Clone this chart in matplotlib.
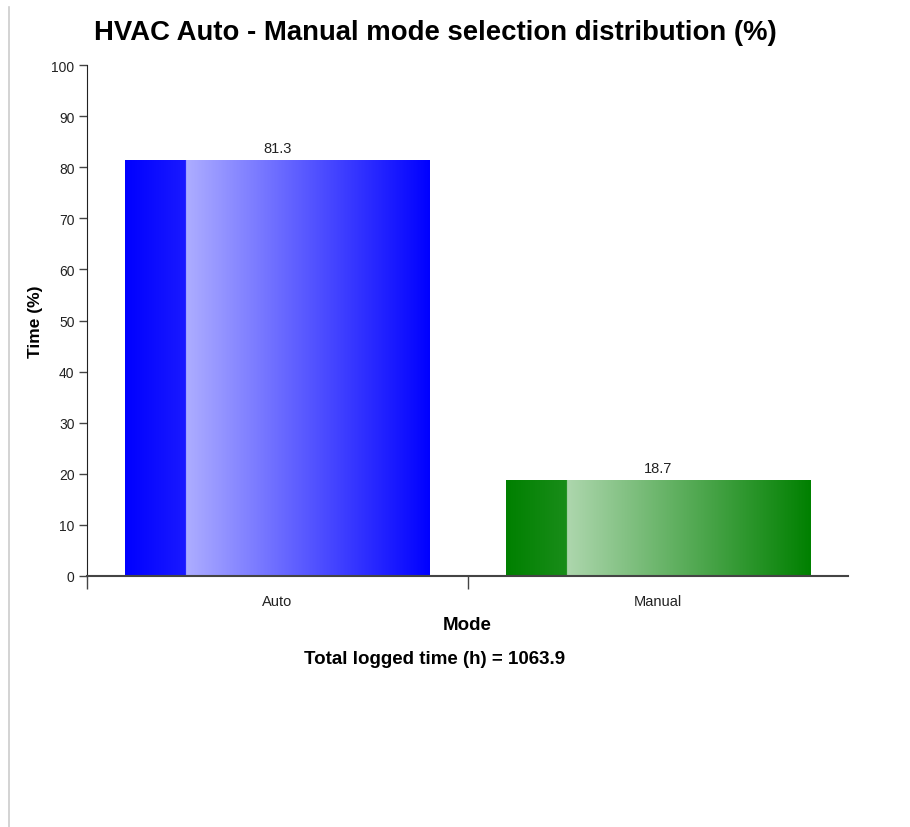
import numpy as np
import matplotlib
matplotlib.use("Agg")
import matplotlib.pyplot as plt
from matplotlib.colors import to_rgb
from matplotlib.lines import Line2D

plt.rcParams['font.family'] = ['Liberation Sans', 'DejaVu Sans']

categories = ["Auto", "Manual"]
values = [81.3, 18.7]
bar_colors = ["#0000ff", "#008000"]
total_hours = 1063.9
title = "HVAC Auto - Manual mode selection distribution (%)"

W, H = 910, 828
fig = plt.figure(figsize=(W / 100, H / 100), dpi=100)
ax = fig.add_axes([87 / W, 1 - 577 / H, (848 - 87) / W, (577 - 66) / H])

bw = 0.8
for i, (v, c) in enumerate(zip(values, bar_colors)):
    x0, x1 = i - bw / 2, i + bw / 2
    n = 400
    t = np.linspace(0, 1, n)
    split = 0.2
    cols = np.zeros((1, n, 3))
    base = np.array(to_rgb(c))
    for k, tt in enumerate(t):
        if tt < split:
            f = 0.1 * (tt / split)
        else:
            f = 0.68 * (1 - (tt - split) / (1 - split))
        cols[0, k] = base + (1 - base) * f
    ax.imshow(cols, extent=(x0, x1, 0, v), aspect='auto', interpolation='bilinear', zorder=2)
    ax.text(i, v + 1.0, f"{v}", ha='center', va='bottom', fontsize=10.5, color='#222222')

ax.set_xlim(-0.5, len(categories) - 0.5)
ax.set_ylim(0, 100)

for s in ['top', 'right']:
    ax.spines[s].set_visible(False)
ax.spines['left'].set_color('#222222')
ax.spines['bottom'].set_color('#444444')
ax.spines['bottom'].set_linewidth(1.5)

ax.set_yticks(np.arange(0, 101, 10))
ax.tick_params(axis='y', labelsize=10, length=6, width=1, color='#444444', pad=3, labelcolor='#222222')
ax.set_xticks(range(len(categories)))
ax.set_xticklabels(categories)
ax.tick_params(axis='x', length=0, labelsize=10.5, pad=13, labelcolor='#222222')
ax.set_xticks([-0.5, 0.5], minor=True)
ax.tick_params(axis='x', which='minor', length=9, width=1, color='#444444', direction='out')

ax.set_ylabel("Time (%)", fontsize=12.5, fontweight='bold', labelpad=6)
ax.set_xlabel("Mode", fontsize=13.5, fontweight='bold', labelpad=6)

fig.text(435 / W, 1 - 33 / H, title, ha='center', va='center', fontsize=19.8, fontweight='bold')
fig.text(435 / W, 1 - 660 / H, f"Total logged time (h) = {total_hours}", ha='center', va='center',
         fontsize=13.5, fontweight='bold')

fig.add_artist(Line2D([8.5 / W, 8.5 / W], [0, 1 - 8 / H], color='#cccccc', lw=1.2, transform=fig.transFigure))

fig.savefig("out.png", dpi=100)
